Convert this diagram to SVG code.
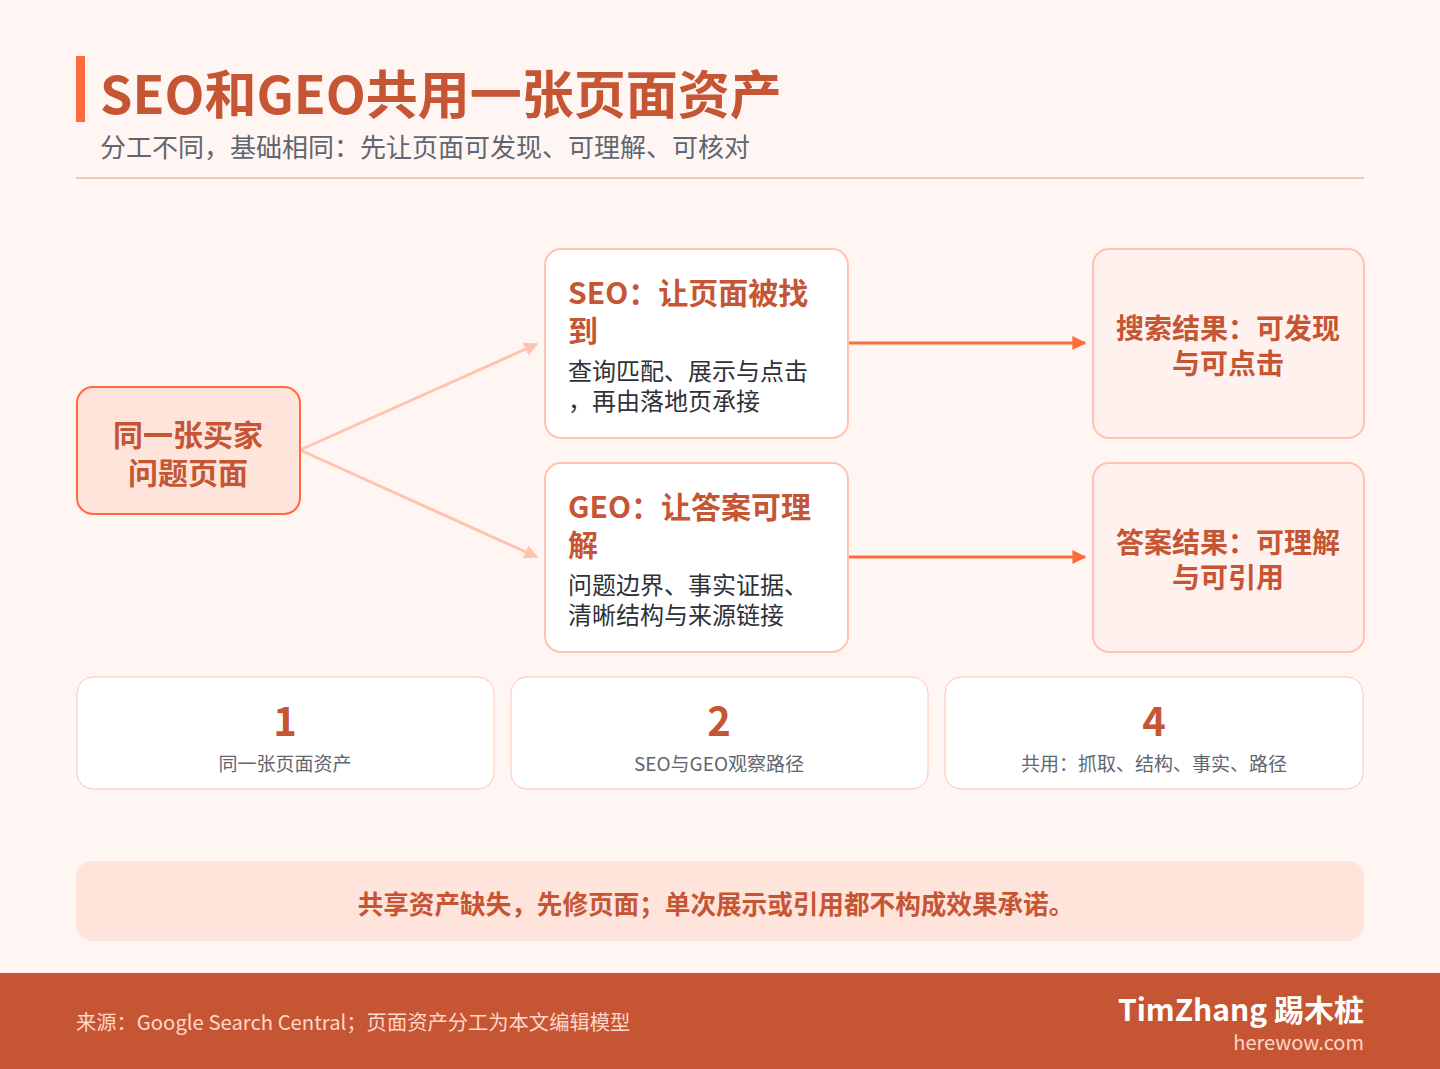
<svg xmlns="http://www.w3.org/2000/svg" width="1440" height="1069" viewBox="0 0 1440 1069">
<defs>
<style>
text{font-family:"Noto Sans CJK SC","Noto Sans",sans-serif}
.h{fill:#C65534;font-weight:700}
.body{fill:#2E3238;font-size:24px}
.card{fill:#FFFFFF;stroke:#FFC4B0;stroke-width:2}
.res{fill:#FFF1EE;stroke:#FFC4B0;stroke-width:2}
.stat{fill:#FFFFFF;stroke:#FFC4B0;stroke-width:1}
.num{fill:#C65534;font-weight:700;font-size:40px;text-anchor:middle}
.lab{fill:#5F6670;font-size:19px;text-anchor:middle}
.soft{stroke:#FFC4B0;stroke-width:3;fill:none}
.hard{stroke:#FF6B3D;stroke-width:3;fill:none}
</style>
<marker id="aSoft" viewBox="0 0 10 10" refX="9" refY="5" markerWidth="14" markerHeight="14" markerUnits="userSpaceOnUse" orient="auto"><path d="M0,0 L10,5 L0,10 z" fill="#FFC4B0"/></marker>
<marker id="aHard" viewBox="0 0 10 10" refX="9" refY="5" markerWidth="14" markerHeight="14" markerUnits="userSpaceOnUse" orient="auto"><path d="M0,0 L10,5 L0,10 z" fill="#FF6B3D"/></marker>
</defs>
<rect x="0" y="0" width="1440" height="1069" fill="#FFF6F4"/>
<g id="header">
<rect x="76" y="56" width="9" height="66" fill="#FF6B3D"/>
<text x="100" y="114" class="h" font-size="52">SEO和GEO共用一张页面资产</text>
<text x="100" y="157" font-size="26" fill="#5F6670">分工不同，基础相同：先让页面可发现、可理解、可核对</text>
<line x1="76" y1="178" x2="1364" y2="178" stroke="#FFC4B0" stroke-width="2"/>
</g>
<g id="connectors">
<line x1="300" y1="450" x2="537" y2="344" class="soft" marker-end="url(#aSoft)"/>
<line x1="300" y1="450" x2="537" y2="557" class="soft" marker-end="url(#aSoft)"/>
<line x1="848" y1="343" x2="1085" y2="343" class="hard" marker-end="url(#aHard)"/>
<line x1="848" y1="557" x2="1085" y2="557" class="hard" marker-end="url(#aHard)"/>
</g>
<g id="node-source">
<rect x="77" y="387" width="223" height="127" rx="16" fill="#FFE4DC" stroke="#FF6B3D" stroke-width="2"/>
<text x="188" y="446" class="h" font-size="30" text-anchor="middle">同一张买家</text>
<text x="188" y="484" class="h" font-size="30" text-anchor="middle">问题页面</text>
</g>
<g id="node-seo">
<rect x="545" y="249" width="303" height="189" rx="16" class="card"/>
<text x="568" y="304" class="h" font-size="30">SEO：让页面被找</text>
<text x="568" y="342" class="h" font-size="30">到</text>
<text x="568" y="380" class="body">查询匹配、展示与点击</text>
<text x="568" y="410" class="body">，再由落地页承接</text>
</g>
<g id="node-geo">
<rect x="545" y="463" width="303" height="189" rx="16" class="card"/>
<text x="568" y="518" class="h" font-size="30">GEO：让答案可理</text>
<text x="568" y="556" class="h" font-size="30">解</text>
<text x="568" y="594" class="body">问题边界、事实证据、</text>
<text x="568" y="624" class="body">清晰结构与来源链接</text>
</g>
<g id="node-search">
<rect x="1093" y="249" width="271" height="189" rx="16" class="res"/>
<text x="1228" y="339" class="h" font-size="28" text-anchor="middle">搜索结果：可发现</text>
<text x="1228" y="374" class="h" font-size="28" text-anchor="middle">与可点击</text>
</g>
<g id="node-answer">
<rect x="1093" y="463" width="271" height="189" rx="16" class="res"/>
<text x="1228" y="553" class="h" font-size="28" text-anchor="middle">答案结果：可理解</text>
<text x="1228" y="588" class="h" font-size="28" text-anchor="middle">与可引用</text>
</g>
<g id="stat-1">
<rect x="77" y="677" width="417" height="112" rx="16" class="stat"/>
<text x="285" y="736" class="num">1</text>
<text x="285" y="771" class="lab">同一张页面资产</text>
</g>
<g id="stat-2">
<rect x="511" y="677" width="417" height="112" rx="16" class="stat"/>
<text x="719" y="736" class="num">2</text>
<text x="719" y="771" class="lab">SEO与GEO观察路径</text>
</g>
<g id="stat-3">
<rect x="945" y="677" width="418" height="112" rx="16" class="stat"/>
<text x="1154" y="736" class="num">4</text>
<text x="1154" y="771" class="lab">共用：抓取、结构、事实、路径</text>
</g>
<g id="banner">
<rect x="76" y="861" width="1288" height="80" rx="16" fill="#FFE4DC"/>
<text x="716" y="914" class="h" font-size="25.6" text-anchor="middle">共享资产缺失，先修页面；单次展示或引用都不构成效果承诺。</text>
</g>
<g id="footer">
<rect x="0" y="973" width="1440" height="96" fill="#C65534"/>
<text x="76" y="1030" font-size="20.3" fill="#FFD6C8">来源：Google Search Central；页面资产分工为本文编辑模型</text>
<text x="1364" y="1021" font-size="30" font-weight="700" fill="#FFFFFF" text-anchor="end">TimZhang 踢木桩</text>
<text x="1364" y="1050" font-size="20" fill="#FFD6C8" text-anchor="end">herewow.com</text>
</g>
</svg>
